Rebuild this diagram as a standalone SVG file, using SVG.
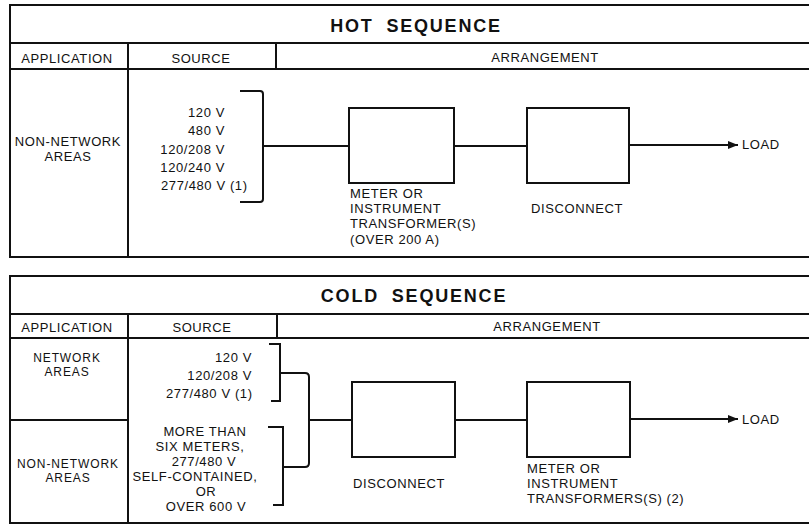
<svg xmlns="http://www.w3.org/2000/svg" width="809" height="526" viewBox="0 0 809 526">
<defs>
<style>
.ln{stroke:#111;stroke-width:2;fill:none}
.bx{stroke:#111;stroke-width:2;fill:#fff}
.t{font-family:"Liberation Sans",Arial,sans-serif;font-size:13px;fill:#111;letter-spacing:0.6px}
.s{font-size:12px;letter-spacing:0.9px}
.h{font-family:"Liberation Sans",Arial,sans-serif;font-size:18px;font-weight:bold;fill:#111;letter-spacing:1.8px;word-spacing:6px}
.c{text-anchor:middle}
.e{text-anchor:end}
</style>
<marker id="arr" markerWidth="10" markerHeight="8" refX="10" refY="4" orient="auto" markerUnits="userSpaceOnUse">
<path d="M0,0 L10,4 L0,8 Z" fill="#111"/>
</marker>
</defs>
<rect width="809" height="526" fill="#fff"/>

<g id="hot-table">
<path class="ln" d="M812,5 H10 V257 H812 M10,43 H812 M10,69 H812 M128,43 V257 M276,43 V69"/>
<text class="h c" x="416" y="32">HOT SEQUENCE</text>
<text class="t c" x="67" y="63">APPLICATION</text>
<text class="t c" x="201" y="63">SOURCE</text>
<text class="t c" x="545" y="62">ARRANGEMENT</text>
<text class="t c" x="68" y="146">NON-NETWORK</text>
<text class="t c" x="68" y="161">AREAS</text>
</g>

<g id="hot-source">
<text class="t e" x="225" y="117">120 V</text>
<text class="t e" x="225" y="135">480 V</text>
<text class="t e" x="225" y="154">120/208 V</text>
<text class="t e" x="225" y="172">120/240 V</text>
<text class="t" x="161" y="190">277/480 V (1)</text>
</g>

<g id="hot-meter">
<rect class="bx" x="349" y="108" width="105" height="75"/>
<text class="t" x="350" y="198">METER OR</text>
<text class="t" x="350" y="213">INSTRUMENT</text>
<text class="t" x="350" y="228">TRANSFORMER(S)</text>
<text class="t" x="350" y="244">(OVER 200 A)</text>
</g>

<g id="hot-disconnect">
<rect class="bx" x="527" y="108" width="102" height="75"/>
<text class="t" x="531" y="213">DISCONNECT</text>
</g>

<g id="hot-load">
<text class="t" x="742" y="149">LOAD</text>
</g>

<g id="cold-table">
<path class="ln" d="M812,276 H10 V523 H812 M10,314 H812 M10,338 H812 M128,314 V523 M277,314 V338 M10,420 H128"/>
<text class="h c" x="414" y="302">COLD SEQUENCE</text>
<text class="t c" x="67" y="332">APPLICATION</text>
<text class="t c" x="202" y="332">SOURCE</text>
<text class="t c" x="547" y="331">ARRANGEMENT</text>
<text class="t s c" x="67" y="362">NETWORK</text>
<text class="t s c" x="67" y="376">AREAS</text>
<text class="t s c" x="68" y="468">NON-NETWORK</text>
<text class="t s c" x="68" y="482">AREAS</text>
</g>

<g id="cold-source">
<text class="t e" x="252" y="362">120 V</text>
<text class="t e" x="252" y="380">120/208 V</text>
<text class="t" x="166" y="398">277/480 V (1)</text>
<text class="t c" x="205" y="436">MORE THAN</text>
<text class="t c" x="200" y="451">SIX METERS,</text>
<text class="t c" x="204" y="466">277/480 V</text>
<text class="t c" x="195" y="481">SELF-CONTAINED,</text>
<text class="t c" x="206" y="496">OR</text>
<text class="t c" x="206" y="511">OVER 600 V</text>
</g>

<g id="cold-disconnect">
<rect class="bx" x="352" y="382" width="103" height="75"/>
<text class="t" x="353" y="488">DISCONNECT</text>
</g>

<g id="cold-meter">
<rect class="bx" x="527" y="382" width="103" height="75"/>
<text class="t" x="527" y="473">METER OR</text>
<text class="t" x="527" y="488">INSTRUMENT</text>
<text class="t" x="527" y="503">TRANSFORMERS(S) (2)</text>
</g>

<g id="cold-load">
<text class="t" x="742" y="424">LOAD</text>
</g>

<g id="connectors">
<path class="ln" d="M240,91 H260 Q263,91 263,94 V199 Q263,202 260,202 H240"/>
<path class="ln" d="M263,146 H349"/>
<path class="ln" d="M454,146 H527"/>
<path class="ln" d="M629,145 H738" marker-end="url(#arr)"/>
<path class="ln" d="M269,344 H280 V401 H271"/>
<path class="ln" d="M268,427 H283 V505 H273"/>
<path class="ln" d="M280,373 H305 Q309,373 309,377 V463 Q309,467 305,467 H283"/>
<path class="ln" d="M309,420 H352"/>
<path class="ln" d="M455,420 H527"/>
<path class="ln" d="M630,419 H738" marker-end="url(#arr)"/>
</g>
</svg>
